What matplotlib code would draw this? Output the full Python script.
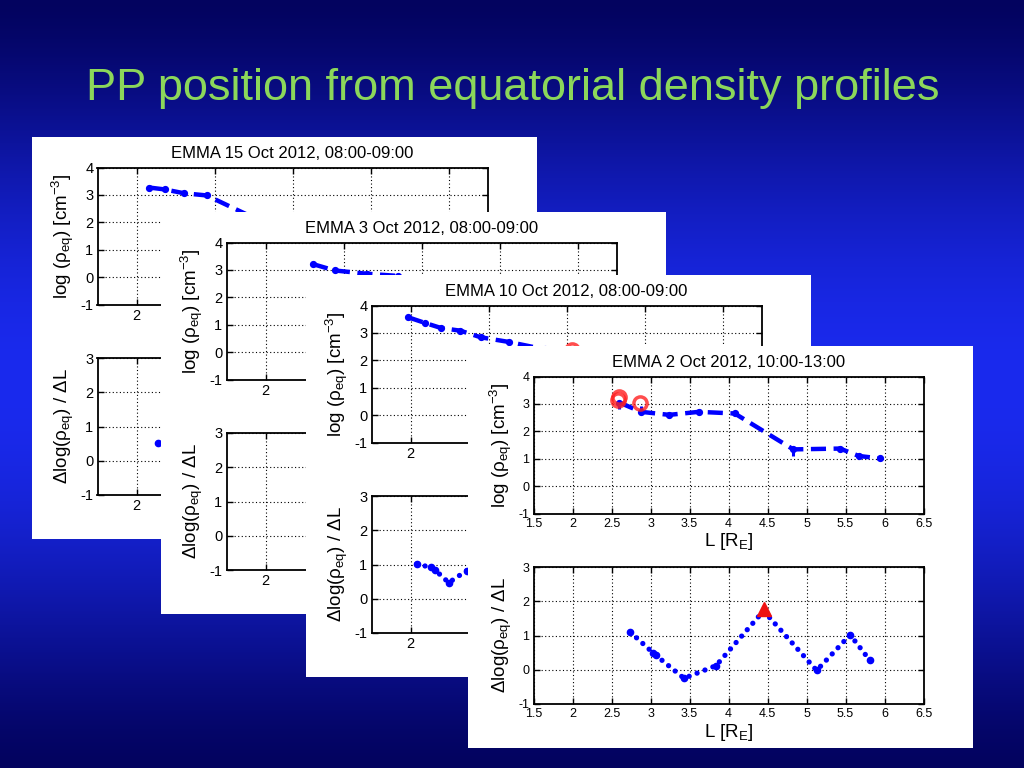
import numpy as np
import matplotlib
matplotlib.use("Agg")
import matplotlib.pyplot as plt
from matplotlib.patches import Rectangle
from matplotlib.ticker import FormatStrFormatter, FixedFormatter

plt.rcParams['font.family'] = ['Liberation Sans', 'DejaVu Sans']
plt.rcParams['mathtext.fontset'] = 'custom'
plt.rcParams['mathtext.rm'] = 'Liberation Sans'
plt.rcParams['mathtext.it'] = 'Liberation Sans:italic'
plt.rcParams['mathtext.bf'] = 'Liberation Sans:bold'
plt.rcParams['mathtext.sf'] = 'Liberation Sans'

# ---------------- data ----------------
slide_title = "PP position from equatorial density profiles"

p1_title = "EMMA 15 Oct 2012, 08:00-09:00"
p1_L = [2.16, 2.36, 2.61, 2.90, 3.50]
p1_rho = [3.27, 3.20, 3.06, 2.98, 2.17]
p1_dL = [2.27]
p1_drho = [0.53]

p2_title = "EMMA 3 Oct 2012, 08:00-09:00"
p2_L = [2.61, 2.885, 3.30, 3.70]
p2_rho = [3.21, 2.98, 2.86, 2.78]
p2_dL = []
p2_drho = []

p3_title = "EMMA 10 Oct 2012, 08:00-09:00"
p3_L = [1.97, 2.19, 2.39, 2.64, 2.90, 3.26, 3.72, 4.07]
p3_rho = [3.57, 3.36, 3.18, 3.08, 2.84, 2.67, 2.40, 2.25]
p3_dL = [2.08, 2.26, 2.31, 2.49, 2.72]
p3_drho = [1.01, 0.92, 0.85, 0.47, 0.82]
p3_pp_L = [4.07]
p3_pp_rho = [2.38]

p4_title = "EMMA 2 Oct 2012, 10:00-13:00"
p4_L = [2.60, 2.88, 3.24, 3.62, 4.08, 4.83, 5.43, 5.67, 5.94]
p4_rho = [3.05, 2.71, 2.60, 2.71, 2.65, 1.34, 1.37, 1.10, 1.01]
p4_err_lo = [0.25, 0.0, 0.0, 0.0, 0.0, 0.25, 0.0, 0.0, 0.0]
p4_err_hi = [0.0, 0.22, 0.0, 0.0, 0.0, 0.0, 0.0, 0.0, 0.0]
p4_pp_L = [2.58, 2.59, 2.87]
p4_pp_rho = [3.14, 3.24, 3.03]
p4_dL = [2.74, 3.03, 3.07, 3.43, 3.84, 4.45, 5.13, 5.56, 5.81]
p4_drho = [1.10, 0.50, 0.42, -0.25, 0.12, 1.72, -0.02, 1.02, 0.28]
p4_peak_L = [4.45]
p4_peak_d = [1.76]

coarse_xticks = [2, 3, 4, 5, 6]
coarse_xlabels = ["2", "", "", "", ""]   # only "2" is visible in the covered panels
fine_xticks = [1.5, 2, 2.5, 3, 3.5, 4, 4.5, 5, 5.5, 6, 6.5]

ylabel_top = "log (ρ$_{\\rm eq}$) [cm$^{-3}$]"
ylabel_bot = "Δlog(ρ$_{\\rm eq}$) / ΔL"
xlabel = "L [R$_{\\rm E}$]"

# ---------------- figure ----------------
FW, FH = 1024, 768
fig = plt.figure(figsize=(FW / 100, FH / 100), dpi=100)

# gradient background
bg = fig.add_axes([0, 0, 1, 1], zorder=-10)
yy = np.arange(FH)
f = np.sin(np.pi * (yy + 0.5) / FH) ** 1.4
dark = np.array([3, 3, 95]) / 255.0
bright = np.array([26, 42, 238]) / 255.0
grad = dark[None, :] + (bright - dark)[None, :] * f[:, None]
img = np.repeat(grad[:, None, :], 4, axis=1)
bg.imshow(img, aspect='auto', extent=[0, 1, 0, 1], interpolation='bilinear')
bg.set_xlim(0, 1)
bg.set_ylim(0, 1)
bg.axis('off')

fig.text(512.5 / FW, 1 - 100 / FH, slide_title, ha='center', va='baseline',
         fontsize=32.5, color='#8CD75A', zorder=200)

PW, PH = 505, 402
AX_X0, AX_X1 = 65.5, 455.5
TOP_Y0, TOP_Y1 = 30.5, 167.5
BOT_Y0, BOT_Y1 = 221.0, 358.0


def fig_rect(px, py, x0, y0, x1, y1):
    return [(px + x0) / FW, 1 - (py + y1) / FH, (x1 - x0) / FW, (y1 - y0) / FH]


def style_axes(ax, fine, ylim, yticks):
    ax.set_xlim(1.5, 6.5)
    ax.set_ylim(*ylim)
    if fine:
        ax.set_xticks(fine_xticks)
        ax.xaxis.set_major_formatter(FormatStrFormatter('%g'))
        fs = 9
    else:
        ax.set_xticks(coarse_xticks)
        ax.xaxis.set_major_formatter(FixedFormatter(coarse_xlabels))
        fs = 10.5
    ax.set_yticks(yticks)
    ax.yaxis.set_major_formatter(FormatStrFormatter('%g'))
    ax.tick_params(direction='in', length=4, width=1, labelsize=fs,
                   top=True, right=True, pad=3)
    ax.grid(True, color='black', linestyle=(0, (1, 2.2)), linewidth=0.8)
    for s in ax.spines.values():
        s.set_linewidth(1.3)
        s.set_color('black')
    ax.set_facecolor('white')


def make_panel(i, px, py, title, L, rho, dL, drho, fine,
               err=None, pp=None, peak=None):
    z = 10 * (i + 1)
    fig.add_artist(Rectangle((px / FW, 1 - (py + PH) / FH), PW / FW, PH / FH,
                             transform=fig.transFigure, facecolor='white',
                             edgecolor='none', zorder=z))
    axt = fig.add_axes(fig_rect(px, py, AX_X0, TOP_Y0, AX_X1, TOP_Y1), zorder=z + 1)
    axb = fig.add_axes(fig_rect(px, py, AX_X0, BOT_Y0, AX_X1, BOT_Y1), zorder=z + 2)
    style_axes(axt, fine, (-1, 4), [-1, 0, 1, 2, 3, 4])
    style_axes(axb, fine, (-1, 3), [-1, 0, 1, 2, 3])

    axt.plot(L, rho, color='blue', linestyle=(0, (3.4, 1.7)), linewidth=3.2,
             marker='o', markersize=4.2, zorder=3)
    if err is not None:
        axt.errorbar(L, rho, yerr=err, fmt='none', ecolor='blue',
                     elinewidth=2.2, capsize=0, zorder=3)
    if pp is not None:
        axt.plot(pp[0], pp[1], linestyle='none', marker='o', markersize=9.5,
                 markerfacecolor='none', markeredgecolor='#FF2020',
                 markeredgewidth=2.5, alpha=0.8, zorder=4)
    if len(dL):
        axb.plot(dL, drho, color='blue', linestyle=(0, (0.01, 1.6)),
                 linewidth=3.8, dash_capstyle='round', marker='o',
                 markersize=4.5, zorder=3)
    if peak is not None:
        axb.plot(peak[0], peak[1], linestyle='none', marker='^', markersize=10,
                 color='#EE1111', zorder=4)

    axt.set_title(title, fontsize=12, pad=7)
    axt.set_ylabel(ylabel_top, fontsize=13.5, labelpad=3)
    axb.set_ylabel(ylabel_bot, fontsize=13.5, labelpad=3)
    if fine:
        axt.set_xlabel(xlabel, fontsize=13.5, labelpad=1)
        axb.set_xlabel(xlabel, fontsize=13.5, labelpad=1)


make_panel(0, 32, 137, p1_title, p1_L, p1_rho, p1_dL, p1_drho, fine=False)
make_panel(1, 161, 212, p2_title, p2_L, p2_rho, p2_dL, p2_drho, fine=False)
make_panel(2, 306, 275, p3_title, p3_L, p3_rho, p3_dL, p3_drho, fine=False,
           pp=(p3_pp_L, p3_pp_rho))
make_panel(3, 468, 346, p4_title, p4_L, p4_rho, p4_dL, p4_drho, fine=True,
           err=[p4_err_lo, p4_err_hi], pp=(p4_pp_L, p4_pp_rho),
           peak=(p4_peak_L, p4_peak_d))

fig.savefig("out.png", dpi=100)
